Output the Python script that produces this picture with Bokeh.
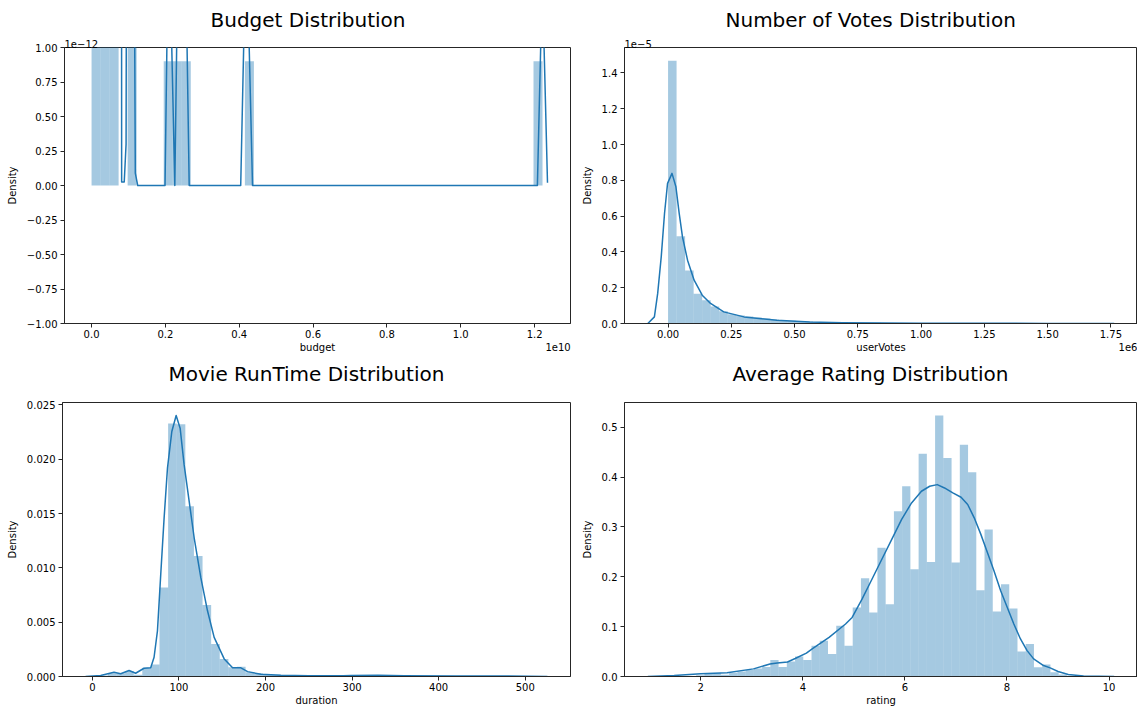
import numpy as np
from bokeh.plotting import figure
from bokeh.layouts import column, row
from bokeh.models import FixedTicker, CustomJSTickFormatter, Range1d, Title, LinearAxis
from bokeh.embed import file_html
from bokeh.resources import INLINE

FONT = "DejaVu Sans"
BLUE = "#1f77b4"
DARK = "#262626"

# ---------------- Budget ----------------
budget_bin_start = 0.0
budget_bin_width = 0.02443e10
budget_hist = np.array([4079, 4.5, 2.7, 0, 1.8, 0, 0, 0, 0.9, 0.9, 0.9, 0, 0, 0, 0, 0, 0, 0.9]
                       + [0] * 31 + [0.9]) * 1e-12
budget_kde_x = np.array([-0.011, 0.0, 0.015, 0.03, 0.045, 0.06, 0.0775, 0.0815, 0.0885, 0.0935,
                         0.0975, 0.106, 0.1135, 0.1185, 0.125, 0.199, 0.209, 0.2255, 0.238, 0.25,
                         0.2645, 0.404, 0.416, 0.4225, 0.436, 1.2076, 1.221, 1.235]) * 1e10
budget_kde_y = np.array([900, 1500, 1100, 600, 250, 80, 25, 0.025, 0.025, 0.3,
                         6, 12, 3, 0.09, 0.0, 0.0, 2.0, 0.0, 2.5, 2.5,
                         0.0, 0.0, 1.5, 1.5, 0.0, 0.0, 1.5, 0.02]) * 1e-12
budget_xticks = [0.0, 0.2e10, 0.4e10, 0.6e10, 0.8e10, 1.0e10, 1.2e10]
budget_yticks = [-1e-12, -0.75e-12, -0.5e-12, -0.25e-12, 0.0, 0.25e-12, 0.5e-12, 0.75e-12, 1e-12]

# ---------------- User votes ----------------
votes_bin_start = 0.0
votes_bin_width = 0.0337e6
votes_hist = np.array([1.469, 0.488, 0.296, 0.166, 0.130, 0.095, 0.068, 0.052, 0.045, 0.039,
                       0.033, 0.028, 0.023, 0.019, 0.016, 0.013, 0.011, 0.009, 0.008, 0.007,
                       0.006, 0.005, 0.0045, 0.004, 0.0035, 0.003, 0.003, 0.0025, 0.0025, 0.002,
                       0.002, 0.0018, 0.0016, 0.0014, 0.0012, 0.001, 0.001, 0.0009, 0.0008, 0.0007,
                       0.0006, 0.0005, 0.0005, 0.0004, 0.0004, 0.0003, 0.0003, 0.0002, 0.0002, 0.0002]) * 1e-5
votes_kde_x = np.array([-0.080, -0.054, -0.041, -0.027, -0.014, -0.002, 0.0156, 0.031, 0.044, 0.057,
                        0.077, 0.103, 0.135, 0.168, 0.22, 0.30, 0.43, 0.56, 0.69, 0.85,
                        1.0, 1.25, 1.5, 1.763]) * 1e6
votes_kde_y = np.array([0.0, 0.037, 0.168, 0.372, 0.615, 0.783, 0.839, 0.764, 0.615, 0.484,
                        0.354, 0.242, 0.158, 0.112, 0.065, 0.037, 0.018, 0.009, 0.0045, 0.003,
                        0.002, 0.001, 0.0005, 0.0002]) * 1e-5
votes_xticks = [0.0, 0.25e6, 0.5e6, 0.75e6, 1.0e6, 1.25e6, 1.5e6, 1.75e6]
votes_yticks = [0.0, 0.2e-5, 0.4e-5, 0.6e-5, 0.8e-5, 1.0e-5, 1.2e-5, 1.4e-5]

# ---------------- Duration ----------------
runtime_bin_start = 8.0
runtime_bin_width = 9.94
runtime_hist = [0.0001, 0.0003, 0.0003, 0.0005, 0.00015, 0.0008, 0.0011, 0.0082, 0.02328, 0.02322,
                0.01568, 0.01109, 0.00657, 0.0030, 0.00162, 0.00085, 0.0009, 0.0004, 0.0003, 0.0002,
                0.00015, 0.0001, 0.0001, 0.0001, 0.00008, 0.00008, 0.0001, 0.00012, 0.00008, 0.00005,
                0.00005, 0.0001, 0.00005, 0.00003, 0.00003, 0.00003, 0.00002, 0.00002, 0.00002, 0.00002,
                0.00001, 0.00001, 0.00001, 0.00001, 0.00001, 0.00001, 0.00001, 0.0, 0.0, 0.00001]
runtime_kde_x = [-7.8, 9.6, 25, 32.7, 42.4, 50, 59.7, 67.4, 71.3, 75.2,
                 79, 82.9, 86.8, 91.8, 96.8, 101.4, 106, 111.8, 117.6, 125.3,
                 133, 140.7, 152.3, 162, 171.6, 179.3, 194.7, 217.8, 250, 290,
                 299, 330, 360, 420, 480, 525.6]
runtime_kde_y = [0.0, 0.0001, 0.0004, 0.00025, 0.00055, 0.0003, 0.00076, 0.0008, 0.00177, 0.0042,
                 0.0094, 0.0146, 0.0192, 0.02255, 0.02402, 0.02286, 0.0195, 0.01614, 0.01277, 0.0091,
                 0.00605, 0.0036, 0.00162, 0.0008, 0.0008, 0.00045, 0.0002, 0.00012, 0.00008, 0.00008,
                 0.0001, 0.00012, 0.00006, 0.00004, 0.00004, 0.00001]
runtime_xticks = [0, 100, 200, 300, 400, 500]
runtime_yticks = [0.0, 0.005, 0.010, 0.015, 0.020, 0.025]

# ---------------- Rating ----------------
rating_bin_start = 1.588
rating_bin_width = 0.1614
rating_hist = [0.0, 0.0012, 0.0025, 0.0062, 0.0068, 0.0033, 0.0075, 0.0100, 0.0130, 0.0160,
               0.0190, 0.0330, 0.0190, 0.0300, 0.0400, 0.0330, 0.0619, 0.0719, 0.0453, 0.1019,
               0.0619, 0.1385, 0.1971, 0.1285, 0.2583, 0.1451, 0.3315, 0.3815, 0.2150, 0.4467,
               0.2297, 0.5233, 0.4380, 0.2284, 0.4647, 0.4094, 0.1731, 0.2949, 0.1305, 0.1851,
               0.1365, 0.0499, 0.0652, 0.0186, 0.0240, 0.0087, 0.0040, 0.0015, 0.0008, 0.0004]
rating_kde_x = [0.963, 1.48, 2.0, 2.516, 3.033, 3.356, 3.5, 3.7, 3.85, 4.07,
                4.19, 4.514, 4.837, 4.966, 5.16, 5.354, 5.548, 5.742, 5.936, 6.13,
                6.324, 6.485, 6.634, 6.776, 6.939, 7.1, 7.23, 7.358, 7.488, 7.618,
                7.746, 7.876, 8.006, 8.134, 8.264, 8.394, 8.522, 8.716, 8.846, 9.0,
                9.2, 9.5, 9.8, 10.1]
rating_kde_y = [0.0, 0.002, 0.0053, 0.0073, 0.0153, 0.025, 0.027, 0.029, 0.036, 0.047,
                0.056, 0.0785, 0.1052, 0.1185, 0.1551, 0.1951, 0.2351, 0.275, 0.315, 0.3481,
                0.3715, 0.3815, 0.3848, 0.3781, 0.3681, 0.3595, 0.3449, 0.3182, 0.285, 0.2483,
                0.2117, 0.1718, 0.1385, 0.1052, 0.0753, 0.0519, 0.0353, 0.022, 0.0173, 0.010,
                0.004, 0.0012, 0.0003, 0.0]
rating_xticks = [2, 4, 6, 8, 10]
rating_yticks = [0.0, 0.1, 0.2, 0.3, 0.4, 0.5]


def pad_range(vals, frac=0.05):
    lo, hi = float(np.min(vals)), float(np.max(vals))
    d = (hi - lo) * frac
    return lo - d, hi + d


def style_axis(ax):
    ax.major_label_text_font = FONT
    ax.major_label_text_font_size = "10px"
    ax.major_label_text_color = "black"
    ax.axis_label_text_font = FONT
    ax.axis_label_text_font_size = "10px"
    ax.axis_label_text_font_style = "normal"
    ax.axis_label_text_color = "black"
    ax.major_tick_out = 4
    ax.major_tick_in = 0
    ax.minor_tick_out = 0
    ax.minor_tick_in = 0
    ax.major_tick_line_color = DARK
    ax.axis_line_color = DARK


def small_title(text, align, standoff):
    return Title(text=text, align=align, vertical_align="bottom", standoff=standoff,
                 text_font=FONT, text_font_size="10px", text_font_style="normal",
                 text_color="black")


def make_panel(title, title_shift, title_standoff, xlabel, start, width_bin, hist, kx, ky,
               xticks, yticks, xfmt, yfmt, yr, w, h, mbl, mbr, mbt, mbb,
               x_off=None, x_off_halfwidth=0, y_off=None):
    xr = pad_range(kx)
    p = figure(width=w, height=h, x_range=Range1d(*xr), y_range=Range1d(*yr),
               output_backend="svg", toolbar_location=None,
               min_border_left=mbl, min_border_right=mbr,
               min_border_top=mbt, min_border_bottom=mbb)
    p.title = Title(text=title, align="left", offset=title_shift, vertical_align="bottom",
                    standoff=title_standoff, text_font=FONT, text_font_size="20px",
                    text_font_style="normal", text_color="black")
    p.xgrid.visible = False
    p.ygrid.visible = False
    p.outline_line_color = DARK
    p.outline_line_width = 1
    p.outline_line_alpha = 1
    p.background_fill_color = "white"
    p.border_fill_color = "white"

    hist = np.asarray(hist, dtype=float)
    edges = start + width_bin * np.arange(len(hist) + 1)
    p.quad(left=edges[:-1], right=edges[1:], bottom=0, top=hist,
           fill_color=BLUE, fill_alpha=0.4, line_color=None)
    p.line(kx, ky, line_color=BLUE, line_width=1.5, line_join="round")

    style_axis(p.xaxis[0])
    style_axis(p.yaxis[0])
    p.xaxis[0].major_label_standoff = 2
    p.yaxis[0].major_label_standoff = 3
    p.yaxis[0].axis_label_standoff = 6
    p.xaxis[0].ticker = FixedTicker(ticks=xticks)
    p.yaxis[0].ticker = FixedTicker(ticks=yticks)
    p.xaxis[0].formatter = CustomJSTickFormatter(code=xfmt)
    p.yaxis[0].formatter = CustomJSTickFormatter(code=yfmt)
    p.yaxis[0].axis_label = "Density"

    # second row of x texts: axis name centred, scale multiplier at the right end
    frame_w = w - mbl - mbr
    mid = 0.5 * (xr[0] + xr[1])
    ticks2 = [mid]
    names = [xlabel]
    if x_off:
        ticks2.append(xr[1] - x_off_halfwidth / frame_w * (xr[1] - xr[0]))
        names.append(x_off)
    ax2 = LinearAxis(ticker=FixedTicker(ticks=ticks2),
                     formatter=CustomJSTickFormatter(args=dict(mid=mid, names=names),
                                                     code="return tick > mid + 1e-9*Math.abs(mid) ? names[1] : names[0];"))
    style_axis(ax2)
    ax2.major_tick_out = 0
    ax2.axis_line_color = None
    ax2.major_label_standoff = 1
    p.add_layout(ax2, "below")

    if y_off:
        # scale multiplier above the top-left corner
        p.add_layout(small_title(y_off, "left", 0), "above")
    else:
        # blank spacer keeping the title at the same height above the frame
        p.add_layout(small_title(" ", "left", 0), "above")
    return p


MINUS = ".replace('-', '\\u2212')"

p1 = make_panel("Budget Distribution", 146, 11, "budget", budget_bin_start, budget_bin_width, budget_hist,
                budget_kde_x, budget_kde_y, budget_xticks, budget_yticks,
                "return (tick/1e10).toFixed(1)" + MINUS + ";",
                "return (tick/1e-12).toFixed(2)" + MINUS + ";",
                (-1e-12, 1e-12), 578, 356, 64, 8, 40, 33,
                x_off="1e10", x_off_halfwidth=12.5, y_off="1e\u221212")

p2 = make_panel("Number of Votes Distribution", 101, 11, "userVotes", votes_bin_start, votes_bin_width,
                votes_hist, votes_kde_x, votes_kde_y, votes_xticks, votes_yticks,
                "return (tick/1e6).toFixed(2)" + MINUS + ";",
                "return (tick/1e-5).toFixed(1)" + MINUS + ";",
                (0, float(np.max(votes_hist)) * 1.05), 559, 356, 43, 0, 40, 33,
                x_off="1e6", x_off_halfwidth=9.5, y_off="1e\u22125")

p3 = make_panel("Movie RunTime Distribution", 106, 7.4, "duration", runtime_bin_start, runtime_bin_width,
                runtime_hist, runtime_kde_x, runtime_kde_y, runtime_xticks, runtime_yticks,
                "return tick.toFixed(0);",
                "return tick.toFixed(3);",
                (0, float(np.max(runtime_kde_y)) * 1.05), 578, 352, 62, 8, 45, 32)

p4 = make_panel("Average Rating Distribution", 108, 7.4, "rating", rating_bin_start, rating_bin_width,
                rating_hist, rating_kde_x, rating_kde_y, rating_xticks, rating_yticks,
                "return tick.toFixed(0);",
                "return tick.toFixed(1);",
                (0, float(np.max(rating_hist)) * 1.05), 559, 352, 43, 0, 45, 32)

layout = column(row(p1, p2), row(p3, p4))
open("out.html", "w").write(file_html(layout, INLINE, "Distributions"))
